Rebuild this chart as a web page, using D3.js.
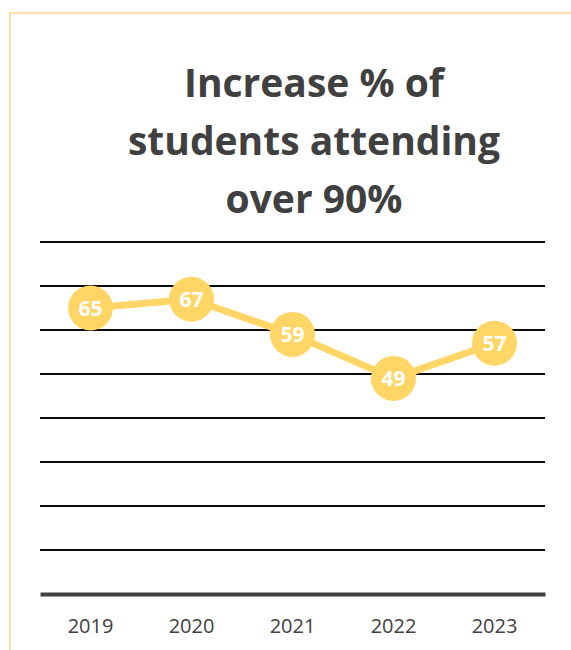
<!DOCTYPE html>
<html>
<head>
<meta charset="utf-8">
<script src="https://cdn.jsdelivr.net/npm/d3@7"></script>
<style>
  html, body { margin: 0; padding: 0; background: #fff; }
  svg { display: block; }
</style>
</head>
<body>
<script>
// Attendance data
const years = ["2019", "2020", "2021", "2022", "2023"];
const values = [65, 67, 59, 49, 57];
const gridTicks = [0, 10, 20, 30, 40, 50, 60, 70, 80];
const titleLines = ["Increase % of", "students attending", "over 90%"];

const W = 571, H = 650;
const svg = d3.select("body").append("svg").attr("width", W).attr("height", H);

// Frame around the chart area
svg.append("path")
  .attr("d", `M10,${H} L10,13 L${W},13`)
  .attr("fill", "none")
  .attr("stroke", "#FDE2A2")
  .attr("stroke-width", 2);

// Title
const title = svg.append("text")
  .attr("text-anchor", "middle")
  .attr("font-family", "'Open Sans', 'Noto Sans', sans-serif")
  .attr("font-weight", "bold")
  .attr("font-size", 39)
  .attr("fill", "#404040");
titleLines.forEach((t, i) => {
  title.append("tspan").attr("x", 314).attr("y", 97 + i * 58).text(t);
});

const x = d3.scaleBand().domain(years).range([40, 545]);
const y = d3.scaleLinear().domain([0, 80]).range([594, 242]);

// Horizontal gridlines
svg.append("g").selectAll("line")
  .data(gridTicks.filter(d => d > 0))
  .join("line")
  .attr("x1", 40).attr("x2", 545)
  .attr("y1", d => y(d)).attr("y2", d => y(d))
  .attr("stroke", "#0a0a0a")
  .attr("stroke-width", 2);

// Category axis
const xAxis = svg.append("g")
  .attr("transform", `translate(0,${y(0)})`)
  .call(d3.axisBottom(x).tickSize(0).tickPadding(25));
xAxis.select(".domain").attr("stroke", "#404040").attr("stroke-width", 4);
xAxis.selectAll("text")
  .attr("font-family", "'Open Sans', 'Noto Sans', sans-serif")
  .attr("font-size", 20)
  .attr("fill", "#404040");

const cx = d => x(d) + x.bandwidth() / 2;
const data = years.map((yr, i) => ({ yr, v: values[i] }));

// Series line
svg.append("path")
  .datum(data)
  .attr("fill", "none")
  .attr("stroke", "#FFD666")
  .attr("stroke-width", 7)
  .attr("stroke-linejoin", "round")
  .attr("d", d3.line().x(d => cx(d.yr)).y(d => y(d.v)));

// Markers with value labels
const pts = svg.append("g").selectAll("g")
  .data(data)
  .join("g")
  .attr("transform", d => `translate(${cx(d.yr)},${y(d.v)})`);
pts.append("circle").attr("r", 22.5).attr("fill", "#FFD666");
pts.append("text")
  .attr("text-anchor", "middle")
  .attr("dy", "0.36em")
  .attr("font-family", "'Open Sans', 'Noto Sans', sans-serif")
  .attr("font-weight", "bold")
  .attr("font-size", 21)
  .attr("fill", "#fff")
  .text(d => d.v);
</script>
</body>
</html>
